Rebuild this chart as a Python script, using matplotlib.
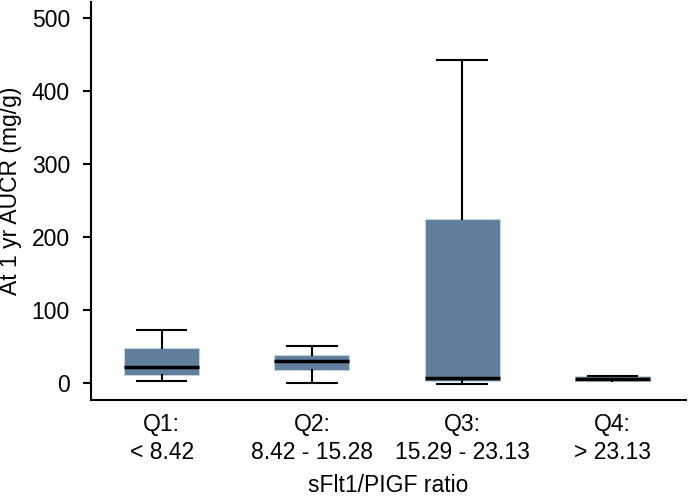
import matplotlib
matplotlib.use("Agg")
import matplotlib.pyplot as plt

plt.rcParams['font.family'] = ['Liberation Sans', 'DejaVu Sans']

# quartile groups of the sFlt1/PlGF ratio
groups = ["Q1:\n< 8.42", "Q2:\n8.42 - 15.28", "Q3:\n15.29 - 23.13", "Q4:\n> 23.13"]
whisker_low = [2.7, 0.5, -1.4, 4.5]
box_low = [12.0, 17.8, 3.2, 3.5]
medians = [22.3, 31.0, 8.0, 6.5]
box_high = [48.8, 39.0, 225.0, 10.0]
whisker_high = [72.6, 51.0, 442.0, 9.5]

stats = []
for i in range(len(groups)):
    stats.append({
        'whislo': whisker_low[i], 'q1': box_low[i], 'med': medians[i],
        'q3': box_high[i], 'whishi': whisker_high[i], 'fliers': [],
    })

fig = plt.figure(figsize=(6.88, 4.99), dpi=100)
ax = fig.add_axes([0.132, 0.198, 0.865, 0.798])

ax.bxp(stats, positions=[1, 2, 3, 4], widths=0.5, patch_artist=True,
       showfliers=False,
       boxprops=dict(facecolor='#607f9c', edgecolor='#c5d3de', linewidth=0.8),
       medianprops=dict(color='black', linewidth=2.5),
       whiskerprops=dict(color='black', linewidth=1.5),
       capprops=dict(color='black', linewidth=1.5),
       capwidths=0.33)

ax.set_xlim(0.528, 4.49)
ax.set_ylim(-23, 522)
ax.set_yticks([0, 100, 200, 300, 400, 500])
ax.set_xticks([1, 2, 3, 4])
ax.set_xticklabels(groups, linespacing=1.3)

for s in ['top', 'right']:
    ax.spines[s].set_visible(False)
for s in ['left', 'bottom']:
    ax.spines[s].set_linewidth(1.5)

ax.tick_params(axis='y', length=6, width=1.5, labelsize=16.5, pad=9)
ax.tick_params(axis='x', length=0, labelsize=16.5, pad=9)

ax.set_ylabel("At 1 yr AUCR (mg/g)", fontsize=16.5)
ax.yaxis.set_label_coords(-0.115, 0.525)
ax.set_xlabel("sFlt1/PIGF ratio", fontsize=16.5, labelpad=7)

fig.savefig("out.png", dpi=100)
